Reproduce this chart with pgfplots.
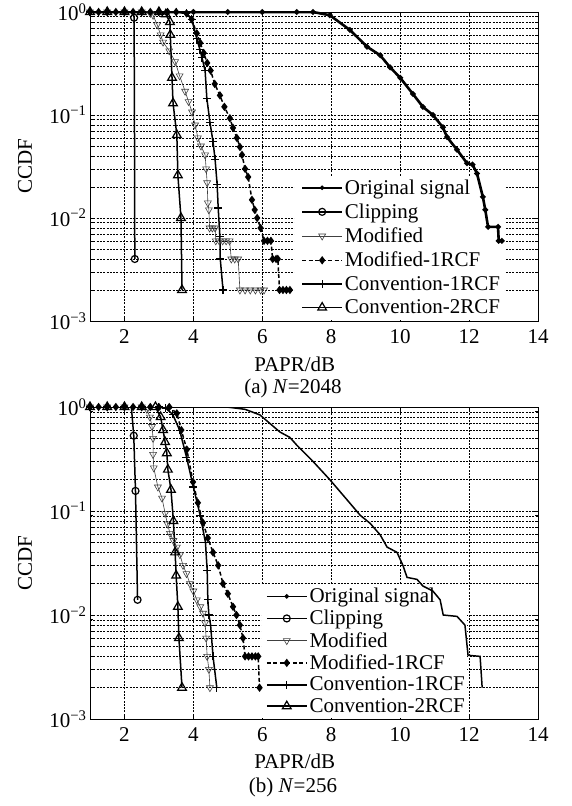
\documentclass[border=0pt]{standalone}
\usepackage{fontspec}
\setmainfont{Liberation Serif}
\usepackage{pgfplots}
\pgfplotsset{compat=1.18}

% longer legend lines, mark in the middle
\pgfplotsset{legend image code/.code={\draw[mark repeat=2,mark phase=2,#1]
  plot coordinates {(0pt,0pt) (20pt,0pt) (40pt,0pt)};}}

\tikzset{
  gridS/.style={black, line width=0.5pt, dash pattern=on 2pt off 1.3pt},
  origS/.style={black, line width=1.5pt, mark=*, mark size=1.4pt},
  clipS/.style={black, line width=1.5pt, mark=o, mark size=3.5pt, mark options={solid, line width=1.2pt}},
  modS/.style={black!75, line width=0.6pt, mark=triangle, mark size=4pt,
    mark options={rotate=180, solid, line width=0.6pt}},
  mod1S/.style={black, line width=1.5pt, dash pattern=on 4pt off 2.5pt, mark=diamond*, mark size=3pt,
    mark options={solid}},
  con1S/.style={black, line width=1.5pt, mark=+, mark size=4pt, mark options={solid, line width=1.1pt}},
  con2S/.style={black, line width=1.5pt, mark=triangle, mark size=5pt, mark options={solid, line width=1.2pt}},
}

\begin{document}
\begin{tikzpicture}[font=\fontsize{21}{23}\selectfont]
\useasboundingbox (0,0) rectangle (572pt,806pt);

% (a) N=2048
\begin{axis}[at={(90pt,485pt)}, anchor=south west,
  scale only axis, width=448pt, height=309pt,
  xmin=1, xmax=14, ymode=log, ymin=1e-3, ymax=1,
  xtick={2,4,6,8,10,12,14}, xticklabels={2,4,6,8,10,12,14},
  xticklabel style={yshift=-5pt},
  ytick={1e-3,1e-2,1e-1,1},
  yticklabels={10\textsuperscript{−3},10\textsuperscript{−2},10\textsuperscript{−1},10\textsuperscript{0}},
  grid=both, major grid style={gridS}, minor grid style={gridS},
  axis line style={black, line width=0.9pt}, tick style={black, line width=0.6pt},
  xlabel={PAPR/dB}, ylabel={CCDF},
  xlabel style={at={(axis description cs:0.457,0)}, anchor=center, yshift=-43pt},
  ylabel style={at={(axis description cs:-0.145,0.5)}, anchor=center},
  legend cell align=left,
  legend style={draw=none, fill=none, inner sep=2pt, row sep=4pt,
    at={(0.467,0.005)}, anchor=south west}]
\addlegendimage{origS}\addlegendentry{Original signal}
\addlegendimage{clipS}\addlegendentry{Clipping}
\addlegendimage{modS}\addlegendentry{Modified}
\addlegendimage{mod1S}\addlegendentry{Modified-1RCF}
\addlegendimage{con1S}\addlegendentry{Convention-1RCF}
\addlegendimage{con2S}\addlegendentry{Convention-2RCF}
% white patch behind the legend: hides the grid, curves stay on top
\fill[white] (axis cs:6.95,1.03e-3) rectangle (axis cs:13.04,0.0256);
\addplot[origS, line width=2.6pt, mark size=1.3pt, forget plot] coordinates {
 (1,1) (2,1) (3,1) (4,1) (5,1) (6,1) (7,1) (7.47,1) (7.96,0.93) (8.54,0.67)
 (9.04,0.46) (9.42,0.38) (9.71,0.29) (10.0,0.23) (10.37,0.16) (10.66,0.12)
 (10.95,0.10) (11.24,0.076) (11.36,0.061) (11.65,0.046) (11.94,0.034) (12.1,0.033)
 (12.23,0.027) (12.4,0.016) (12.47,0.012) (12.55,0.0082) (12.84,0.0082)
 (12.86,0.006) (12.95,0.006)};
\addplot[clipS, mark indices={5,7}, forget plot] coordinates {
 (1,1) (1.5,1) (2,1) (2.25,1) (2.28,0.88) (2.29,0.1) (2.3,0.004)};
\addplot[modS, forget plot] coordinates {
 (1,1) (1.5,1) (2,1) (2.5,1) (2.75,0.97) (2.83,0.93) (2.95,0.75) (3.05,0.6)
 (3.12,0.51) (3.3,0.42) (3.47,0.33) (3.6,0.24) (3.76,0.17) (3.86,0.135)
 (3.96,0.107) (4.05,0.08) (4.13,0.06) (4.22,0.05) (4.34,0.041) (4.37,0.03)
 (4.40,0.022) (4.42,0.014) (4.45,0.012) (4.47,0.008) (4.55,0.008) (4.63,0.008)
 (4.65,0.006) (4.75,0.006) (4.85,0.006) (4.95,0.006) (5.05,0.006) (5.1,0.004)
 (5.2,0.004) (5.3,0.004) (5.35,0.002) (5.5,0.002) (5.65,0.002) (5.8,0.002)
 (5.95,0.002) (6.05,0.002)};
\addplot[mod1S, forget plot] coordinates {
 (1,1) (1.25,1) (1.5,1) (1.75,1) (2,1) (2.25,1) (2.5,1) (2.75,1) (3,1) (3.25,1)
 (3.5,1) (3.8,0.97) (3.95,0.85) (4.1,0.62)
 (4.2,0.5) (4.3,0.4) (4.4,0.32) (4.5,0.27) (4.62,0.2) (4.77,0.155) (4.9,0.12)
 (5.06,0.093) (5.15,0.075) (5.26,0.06) (5.35,0.049) (5.41,0.041) (5.5,0.03)
 (5.59,0.025) (5.7,0.015) (5.78,0.012) (5.85,0.010) (5.95,0.008) (6.05,0.006)
 (6.15,0.006) (6.25,0.006) (6.3,0.004) (6.4,0.004) (6.45,0.004) (6.5,0.002)
 (6.6,0.002) (6.7,0.002) (6.8,0.002)};
\addplot[con1S, forget plot] coordinates {
 (1,1) (1.5,1) (2,1) (2.5,1) (3,1) (3.5,1) (3.8,0.97) (3.95,0.85) (4.1,0.55)
 (4.19,0.43) (4.25,0.36) (4.34,0.27) (4.39,0.146) (4.48,0.085) (4.57,0.055)
 (4.63,0.037) (4.69,0.021) (4.72,0.0125) (4.77,0.0066) (4.78,0.004) (4.86,0.002)};
\addplot[con2S, forget plot] coordinates {
 (1,1) (1.5,1) (2,1) (2.5,1) (3,1) (3.2,0.95) (3.32,0.8) (3.33,0.6) (3.38,0.23)
 (3.41,0.13) (3.52,0.064) (3.55,0.026) (3.64,0.01) (3.67,0.002)};
\end{axis}
\node at (293pt,418pt) {(a) \textit{N}=2048};

% (b) N=256
\begin{axis}[at={(90pt,87pt)}, anchor=south west,
  scale only axis, width=448pt, height=312pt,
  xmin=1, xmax=14, ymode=log, ymin=1e-3, ymax=1,
  xtick={2,4,6,8,10,12,14}, xticklabels={2,4,6,8,10,12,14},
  xticklabel style={yshift=-5pt},
  ytick={1e-3,1e-2,1e-1,1},
  yticklabels={10\textsuperscript{−3},10\textsuperscript{−2},10\textsuperscript{−1},10\textsuperscript{0}},
  grid=both, major grid style={gridS}, minor grid style={gridS},
  axis line style={black, line width=0.9pt}, tick style={black, line width=0.6pt},
  xlabel={PAPR/dB}, ylabel={CCDF},
  xlabel style={at={(axis description cs:0.457,0)}, anchor=center, yshift=-42pt},
  ylabel style={at={(axis description cs:-0.145,0.5)}, anchor=center},
  legend cell align=left,
  legend style={draw=none, fill=none, inner sep=2pt, row sep=2pt,
    at={(0.388,0.003)}, anchor=south west}]
\addlegendimage{origS}\addlegendentry{Original signal}
\addlegendimage{clipS}\addlegendentry{Clipping}
\addlegendimage{modS}\addlegendentry{Modified}
\addlegendimage{mod1S}\addlegendentry{Modified-1RCF}
\addlegendimage{con1S}\addlegendentry{Convention-1RCF}
\addlegendimage{con2S}\addlegendentry{Convention-2RCF}
\fill[white] (axis cs:5.99,1.03e-3) rectangle (axis cs:11.94,0.0194);
\addplot[origS, mark=none, forget plot] coordinates {
 (1,1) (2,1) (3,1) (4,1) (4.97,1) (5.5,0.95) (5.93,0.84) (6.51,0.575) (6.8,0.51)
 (7.0,0.43) (7.47,0.3) (7.96,0.2) (8.46,0.128) (8.84,0.091) (9.13,0.076)
 (9.42,0.059) (9.62,0.045) (9.91,0.040) (10.08,0.030) (10.2,0.023) (10.49,0.022)
 (10.66,0.019) (10.95,0.017) (11.16,0.014) (11.25,0.010) (11.65,0.0097)
 (11.88,0.008) (11.97,0.0041) (12.32,0.004) (12.38,0.002)};
\addplot[clipS, mark indices={5,6,7}, forget plot] coordinates {
 (1,1) (1.5,1) (2,1) (2.2,1) (2.27,0.53) (2.32,0.156) (2.38,0.014)};
\addplot[modS, forget plot] coordinates {
 (1,1) (1.5,1) (2,1) (2.5,1) (2.65,0.95) (2.74,0.8) (2.8,0.65) (2.83,0.5)
 (2.83,0.35) (2.85,0.26) (2.97,0.17) (3.09,0.133) (3.18,0.095) (3.25,0.075)
 (3.32,0.061) (3.42,0.052) (3.52,0.045) (3.61,0.038) (3.70,0.030) (3.8,0.025)
 (3.90,0.020) (4.0,0.017) (4.10,0.014) (4.2,0.012) (4.28,0.0104) (4.34,0.0084)
 (4.37,0.006) (4.40,0.004) (4.45,0.003) (4.48,0.002)};
\addplot[mod1S, forget plot] coordinates {
 (1,1) (1.25,1) (1.5,1) (1.75,1) (2,1) (2.25,1) (2.5,1) (2.75,1) (3,1) (3.3,1)
 (3.52,0.87) (3.65,0.6) (3.81,0.39)
 (3.99,0.19) (4.13,0.12) (4.28,0.077) (4.42,0.055) (4.57,0.04) (4.72,0.03)
 (4.86,0.02) (5.0,0.016) (5.15,0.012) (5.25,0.01) (5.35,0.008) (5.44,0.006)
 (5.5,0.004) (5.6,0.004) (5.7,0.004) (5.8,0.004) (5.88,0.004) (5.92,0.002)};
\addplot[con1S, forget plot] coordinates {
 (1,1) (1.5,1) (2,1) (2.5,1) (3,1) (3.2,0.97) (3.4,0.85) (3.6,0.6) (3.8,0.33)
 (4.0,0.17) (4.2,0.09) (4.35,0.05) (4.40,0.027) (4.42,0.014) (4.45,0.01)
 (4.5,0.008) (4.57,0.004) (4.68,0.002)};
\addplot[con2S, forget plot] coordinates {
 (1,1) (1.5,1) (2,1) (2.5,1) (2.9,1) (3.05,0.8) (3.12,0.6) (3.18,0.46) (3.23,0.36)
 (3.26,0.25) (3.35,0.16) (3.42,0.08) (3.47,0.04) (3.5,0.024) (3.55,0.012)
 (3.58,0.006) (3.67,0.002)};
\end{axis}
\node at (293pt,19pt) {(b) \textit{N}=256};
\end{tikzpicture}
\end{document}
